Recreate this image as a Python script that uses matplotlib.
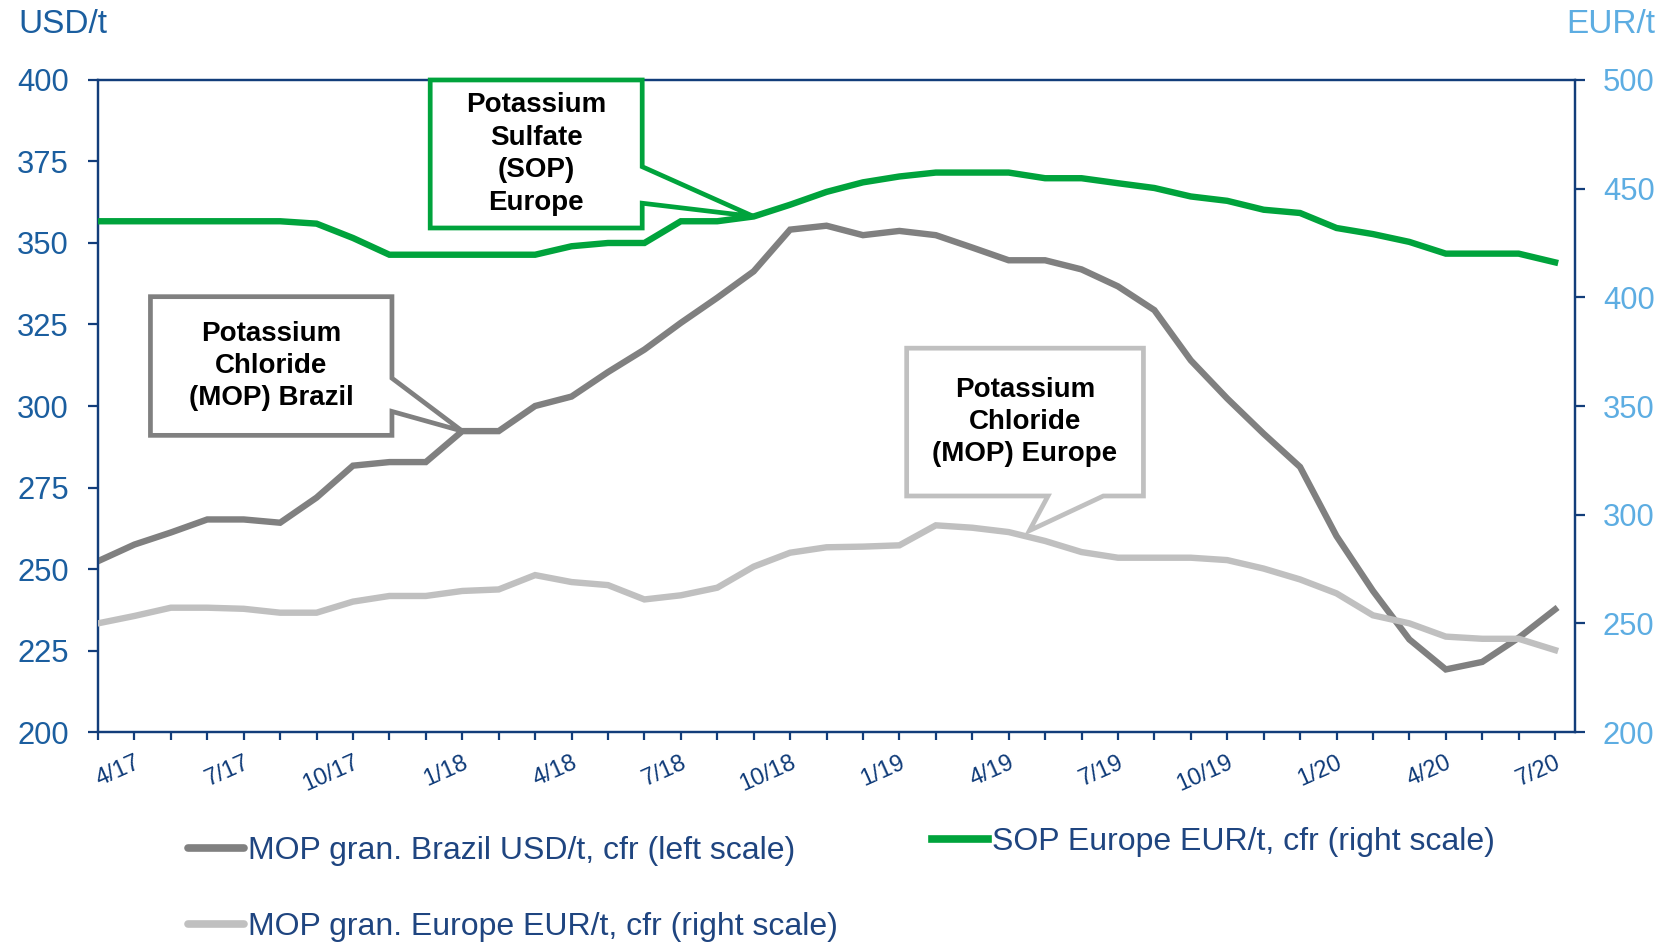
import numpy as np
import matplotlib
matplotlib.use("Agg")
import matplotlib.pyplot as plt
from matplotlib.patches import Polygon
from matplotlib.lines import Line2D

plt.rcParams['font.family'] = ['Liberation Sans', 'DejaVu Sans']

# monthly prices, 3/17 ... 7/20 (41 months)
mop_brazil = [252.4, 257.5, 261.2, 265.2, 265.2, 264.2, 271.9, 281.7, 282.8, 282.8,
              292.3, 292.3, 300.0, 302.9, 310.4, 317.3, 325.5, 333.2, 341.3, 354.1,
              355.3, 352.4, 353.7, 352.4, 348.6, 344.7, 344.7, 341.9, 336.7, 329.4,
              314.0, 302.3, 291.5, 281.3, 260.1, 243.3, 228.4, 219.2, 221.5, 228.9,
              237.6]
mop_europe = [250.0, 253.4, 257.2, 257.2, 256.7, 254.9, 254.9, 260.0, 262.6, 262.6,
              264.9, 265.6, 272.2, 269.0, 267.6, 261.0, 262.9, 266.4, 276.1, 282.5,
              285.0, 285.3, 285.9, 295.1, 294.0, 292.0, 287.9, 282.8, 280.2, 280.2,
              280.2, 279.1, 275.2, 270.2, 263.8, 253.7, 250.0, 243.9, 242.9, 242.9,
              237.7]
sop_europe = [435.0, 435.0, 435.0, 435.0, 435.0, 435.0, 433.9, 427.3, 419.6, 419.6,
              419.6, 419.6, 419.6, 423.5, 425.0, 425.0, 435.0, 435.0, 437.2, 442.6,
              448.5, 452.9, 455.6, 457.4, 457.4, 457.4, 454.8, 454.8, 452.5, 450.3,
              446.4, 444.4, 440.3, 438.8, 431.9, 429.1, 425.5, 420.1, 420.1, 420.1,
              416.1]
tick_labels = ['4/17', '7/17', '10/17', '1/18', '4/18', '7/18', '10/18',
               '1/19', '4/19', '7/19', '10/19', '1/20', '4/20', '7/20']
label_start = 1   # 4/17 is the 2nd month
label_step = 3

c_dark = '#808080'
c_light = '#C0C0C0'
c_green = '#00A33C'
navy = '#123D7A'
blue_l = '#1B5E9F'
blue_r = '#5DADE2'
txt_navy = '#0E3A78'

x = np.arange(len(mop_brazil))

fig = plt.figure(figsize=(16.58, 9.42), dpi=100)
ax = fig.add_axes([0.0591, 0.2229, 0.950 - 0.0591, 0.9151 - 0.2229])
ax2 = ax.twinx()

ax.plot(x, mop_brazil, color=c_dark, lw=4.6, solid_joinstyle='miter', zorder=3)
ax2.plot(x, mop_europe, color=c_light, lw=4.6, solid_joinstyle='miter', zorder=3)
ax2.plot(x, sop_europe, color=c_green, lw=4.6, solid_joinstyle='miter', zorder=3)

ax.set_xlim(0, len(x) - 0.45)
ax.set_ylim(200, 400)
ax2.set_ylim(200, 500)
ax.set_yticks(np.arange(200, 401, 25))
ax2.set_yticks(np.arange(200, 501, 50))

ax.set_xticks(x)
labels = [''] * len(x)
for k, lab in enumerate(tick_labels):
    labels[label_start + k * label_step] = lab
ax.set_xticklabels(labels, rotation=24, ha='right', va='top', rotation_mode='anchor',
                   fontsize=17, color=txt_navy)

for a in (ax, ax2):
    for s in a.spines.values():
        s.set_color(navy)
        s.set_linewidth(1.6)
ax.tick_params(axis='x', direction='out', length=6, width=1.6, color=navy, pad=8)
ax.tick_params(axis='y', direction='out', length=7, width=1.6, color=navy,
               labelsize=22.3, labelcolor=blue_l, pad=14)
ax2.tick_params(axis='y', direction='out', length=7, width=1.6, color=navy,
                labelsize=22.3, labelcolor=blue_r, pad=13)

fig.text(0.0112, 0.9735, 'USD/t', fontsize=24, color=blue_l, va='center', ha='left')
fig.text(0.9445, 0.9735, 'EUR/t', fontsize=24, color=blue_r, va='center', ha='left')


def to_right(v):
    return 200 + (v - 200) * 1.5


def callout(a, x0, x1, y0, y1, base, tip, side, color, text):
    if side == 'right':
        ya, yb = base
        verts = [(x0, y0), (x1, y0), (x1, yb), tip, (x1, ya), (x1, y1), (x0, y1)]
    else:
        xa, xb = base
        verts = [(x0, y0), (xa, y0), tip, (xb, y0), (x1, y0), (x1, y1), (x0, y1)]
    a.add_patch(Polygon(verts, closed=True, facecolor='white', edgecolor=color,
                        lw=3.4, joinstyle='miter', zorder=6, clip_on=False))
    a.text((x0 + x1) / 2, (y0 + y1) / 2, text, ha='center', va='center',
           fontsize=20, fontweight='bold', color='black', zorder=7, linespacing=1.32)


callout(ax2, 9.12, 14.94, 431.9, 500, (460.1, 443.3), (18, sop_europe[18]),
        'right', c_green, 'Potassium\nSulfate\n(SOP)\nEurope')
callout(ax2, 1.44, 8.07, 336.5, 400.3, (362.8, 347.5), (10, to_right(mop_brazil[10])),
        'right', c_dark, 'Potassium\nChloride\n(MOP) Brazil')
tip_x = 25.57
callout(ax2, 22.2, 28.7, 308.6, 376.6, (26.08, 27.6),
        (tip_x, np.interp(tip_x, x, mop_europe) + 3),
        'bottom', c_light, 'Potassium\nChloride\n(MOP) Europe')

# legend entries (Excel style layout)
leg_kw = dict(frameon=False, fontsize=23, handlelength=1.75, handletextpad=0.12,
              borderpad=0, borderaxespad=0, labelcolor='#1F4580', loc='center left')
fig.legend([Line2D([], [], color=c_dark, lw=5.5, solid_capstyle='round')],
           ['MOP gran. Brazil USD/t, cfr (left scale)'],
           bbox_to_anchor=(188 / 1658, 1 - 851 / 942), **leg_kw)
fig.legend([Line2D([], [], color=c_green, lw=5.5)],
           ['SOP Europe EUR/t, cfr (right scale)'],
           bbox_to_anchor=(932 / 1658, 1 - 842 / 942), **leg_kw)
fig.legend([Line2D([], [], color=c_light, lw=5.5, solid_capstyle='round')],
           ['MOP gran. Europe EUR/t, cfr (right scale)'],
           bbox_to_anchor=(188 / 1658, 1 - 927 / 942), **leg_kw)

fig.savefig('out.png', dpi=100)
